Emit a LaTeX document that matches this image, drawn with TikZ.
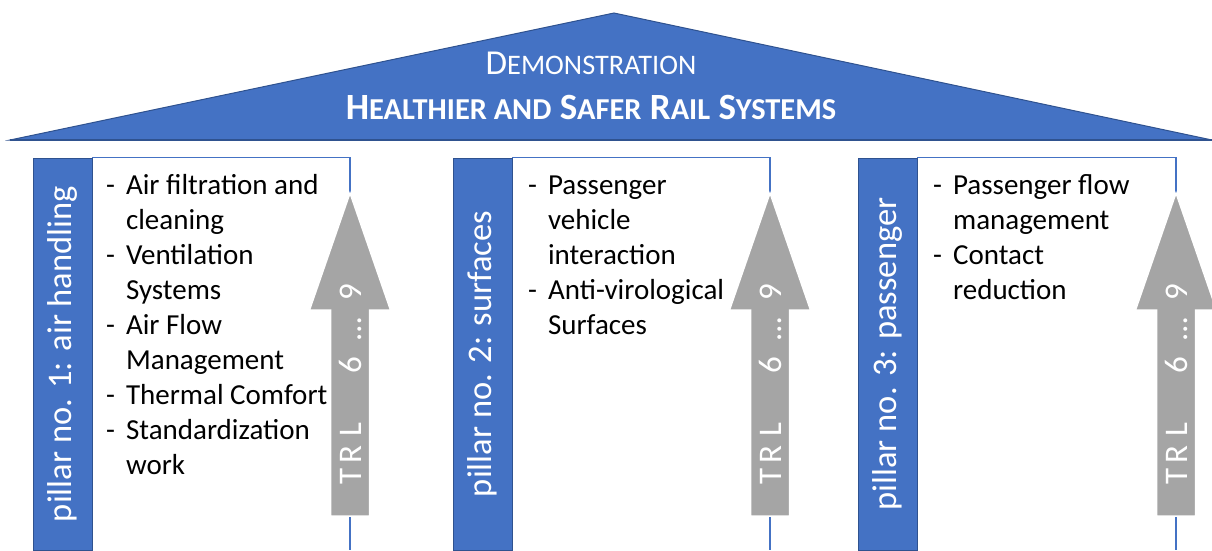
\documentclass[tikz,border=0pt]{standalone}
\usepackage{fontspec}
\setmainfont{Carlito}
\definecolor{roofblue}{HTML}{4472C4}
\definecolor{edgeblue}{HTML}{2F528F}
\definecolor{trlgray}{HTML}{A5A5A5}
\newcommand{\lowcaps}[2]{{\fontsize{#1}{#1}\selectfont #2}}
\begin{document}
\begin{tikzpicture}[x=1pt,y=-1pt,
    roof/.style={fill=roofblue,draw=edgeblue,line width=1pt},
    rooftext/.style={anchor=base,inner sep=0pt,text=white},
    pillarbar/.style={rectangle,rotate=90,fill=roofblue,draw=edgeblue,line width=0.8pt,
      minimum width=392pt,minimum height=59pt,inner sep=0pt,text=white,
      font=\fontsize{34.5}{34.5}\selectfont},
    boxline/.style={draw=roofblue,line width=1.1pt},
    items/.style={anchor=base west,inner sep=0pt,font=\fontsize{29}{35}\selectfont},
    trlarrow/.style={fill=trlgray,draw=white,line width=1.5pt},
    trltext/.style={rotate=90,inner sep=0pt,text=white,font=\fontsize{33}{33}\selectfont}]
  \useasboundingbox (0,0) rectangle (1212,550);
  % roof
  \draw[roof] (10,140) -- (614,13) -- (1212,140) -- cycle;
  \draw[edgeblue,line width=2.5pt] (10,140) -- (1212,140);
  \node[rooftext,font=\fontsize{35}{35}\selectfont] (demo) at (591,74)
    {D\lowcaps{28.3}{EMONSTRATION}};
  \node[rooftext,font=\bfseries\fontsize{37}{37}\selectfont] (title) at (591,119)
    {H\lowcaps{30.4}{EALTHIER AND} S\lowcaps{30.4}{AFER} R\lowcaps{30.4}{AIL} S\lowcaps{30.4}{YSTEMS}};
  % pillars
  \node[pillarbar] (bar1) at (62.5,354) {pillar no. 1: air handling};
  \node[pillarbar] (bar2) at (482.5,354) {pillar no. 2: surfaces};
  \node[pillarbar] (bar3) at (887.5,354) {pillar no. 3: passenger};
  \draw[boxline] (bar1.south east) -| (350,550);
  \draw[boxline] (bar2.south east) -| (770,550);
  \draw[boxline] (bar3.south east) -| (1176,550);
  \node[items] (list1) at (106,194) {\begin{tabular}[t]{@{}l@{\hspace{11pt}}l@{}}
    - & Air filtration and\\ & cleaning\\ - & Ventilation\\ & Systems\\
    - & Air Flow\\ & Management\\ - & Thermal Comfort\\ - & Standardization\\ & work
    \end{tabular}};
  \node[items] (list2) at (528,194) {\begin{tabular}[t]{@{}l@{\hspace{11pt}}l@{}}
    - & Passenger\\ & vehicle\\ & interaction\\ - & Anti-virological\\ & Surfaces
    \end{tabular}};
  \node[items] (list3) at (933,194) {\begin{tabular}[t]{@{}l@{\hspace{11pt}}l@{}}
    - & Passenger flow\\ & management\\ - & Contact\\ & reduction
    \end{tabular}};
  % TRL arrows
  \foreach \c/\n in {350/1,770/2,1176/3}{
    \draw[trlarrow] (\c-19.5,516) -- (\c-19.5,310) -- (\c-40.5,310) -- (\c,193)
      -- (\c+40.5,310) -- (\c+19.5,310) -- (\c+19.5,516) -- cycle;
    \node[trltext] (trl\n) at (\c,384.5)
      {T\hspace{5.5pt}R\hspace{9pt}L\hspace{49pt}6\hspace{16pt}…\hspace{17pt}9};
  }
\end{tikzpicture}
\end{document}
